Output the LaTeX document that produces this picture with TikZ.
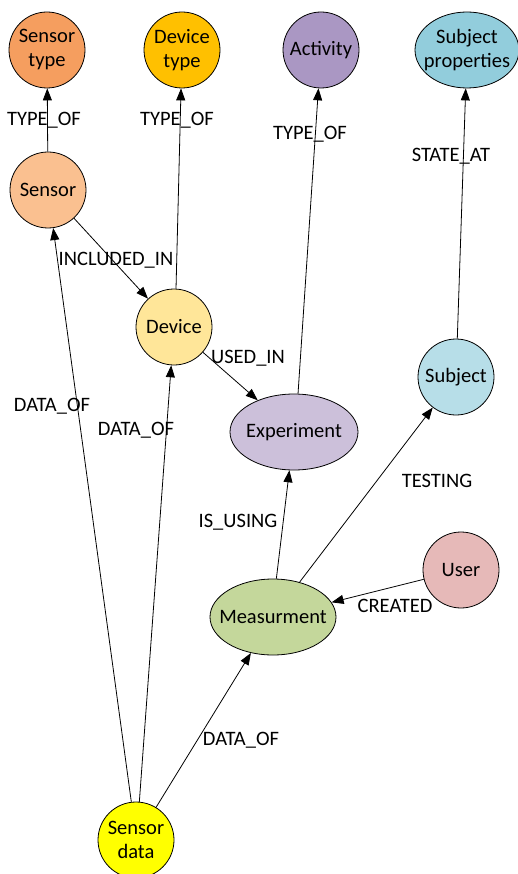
\documentclass[tikz,border=0pt]{standalone}
\usepackage{fontspec}
\setmainfont{Carlito}
\usetikzlibrary{arrows.meta,shapes.geometric}

\definecolor{cSensorType}{HTML}{F59E5F}
\definecolor{cDeviceType}{HTML}{FFC000}
\definecolor{cActivity}{HTML}{AA97C3}
\definecolor{cSubjProp}{HTML}{92CDDC}
\definecolor{cSensor}{HTML}{FAC090}
\definecolor{cDevice}{HTML}{FFE699}
\definecolor{cExperiment}{HTML}{CCC0DA}
\definecolor{cSubject}{HTML}{B7DEE8}
\definecolor{cUser}{HTML}{E6B9B8}
\definecolor{cMeasure}{HTML}{C4D79B}
\definecolor{cSensorData}{HTML}{FFFF00}

% zero-width line so the ellipse keeps its set size
\newcommand{\fitline}[1]{\makebox[0pt]{#1}}

\tikzset{
  ent/.style={circle, draw=black, line width=0.8pt, minimum size=76pt, inner sep=0pt,
    align=center, font=\fontsize{20.5}{24}\selectfont},
  entoval/.style={ellipse, draw=black, line width=0.8pt, minimum height=76pt, inner sep=0pt,
    align=center, font=\fontsize{20.5}{24}\selectfont},
  rel/.style={draw=black, line width=0.8pt, -{Triangle[length=12pt,width=9pt]}},
  rellabel/.style={inner sep=0pt, font=\fontsize{20.5}{24}\selectfont}
}

\begin{document}
\begin{tikzpicture}[x=1pt,y=-1pt]
  \useasboundingbox (0,0) rectangle (517,874);

  % entities
  \node[ent, fill=cSensorType] (stype) at (47,50) {Sensor\\type};
  \node[ent, fill=cDeviceType] (dtype) at (182,50) {Device\\type};
  \node[ent, fill=cActivity] (act) at (321,50) {Activity};
  \node[entoval, fill=cSubjProp, minimum width=104pt] (sprop) at (467,50) {\fitline{Subject}\\\fitline{properties}};
  \node[ent, fill=cSensor] (sensor) at (48,190) {Sensor};
  \node[ent, fill=cDevice] (device) at (174,327) {Device};
  \node[entoval, fill=cExperiment, minimum width=128pt] (exp) at (294,432) {\fitline{Experiment}};
  \node[ent, fill=cSubject] (subj) at (456,377) {Subject};
  \node[ent, fill=cUser] (user) at (461,570) {User};
  \node[entoval, fill=cMeasure, minimum width=126pt] (meas) at (273,617) {\fitline{Measurment}};
  \node[ent, fill=cSensorData] (sdata) at (136,840) {Sensor\\data};

  % relationships
  \draw[rel] (sensor) -- (stype);
  \draw[rel] (device.87) -- (dtype);
  \draw[rel] (exp.84) -- (act);
  \draw[rel] (subj) -- (sprop);
  \draw[rel] (sensor) -- (device);
  \draw[rel] (device) -- (exp);
  \draw[rel] (sdata.97) -- (sensor);
  \draw[rel] (sdata.85) -- (device);
  \draw[rel] (sdata) -- (meas);
  \draw[rel] (meas.85) -- (exp);
  \draw[rel] (meas) -- (subj);
  \draw[rel] (user) -- (meas);

  % relationship labels
  \node[rellabel] (l1) at (44,120) {TYPE\_OF};
  \node[rellabel] (l2) at (177,120) {TYPE\_OF};
  \node[rellabel] (l3) at (310,134) {TYPE\_OF};
  \node[rellabel] (l4) at (451,156) {STATE\_AT};
  \node[rellabel] (l5) at (116,260) {INCLUDED\_IN};
  \node[rellabel] (l6) at (248,358) {USED\_IN};
  \node[rellabel] (l7) at (52,406) {DATA\_OF};
  \node[rellabel] (l8) at (136,430) {DATA\_OF};
  \node[rellabel] (l9) at (238,522) {IS\_USING};
  \node[rellabel] (l10) at (437,481) {TESTING};
  \node[rellabel] (l11) at (395,606) {CREATED};
  \node[rellabel] (l12) at (241,740) {DATA\_OF};
\end{tikzpicture}
\end{document}
